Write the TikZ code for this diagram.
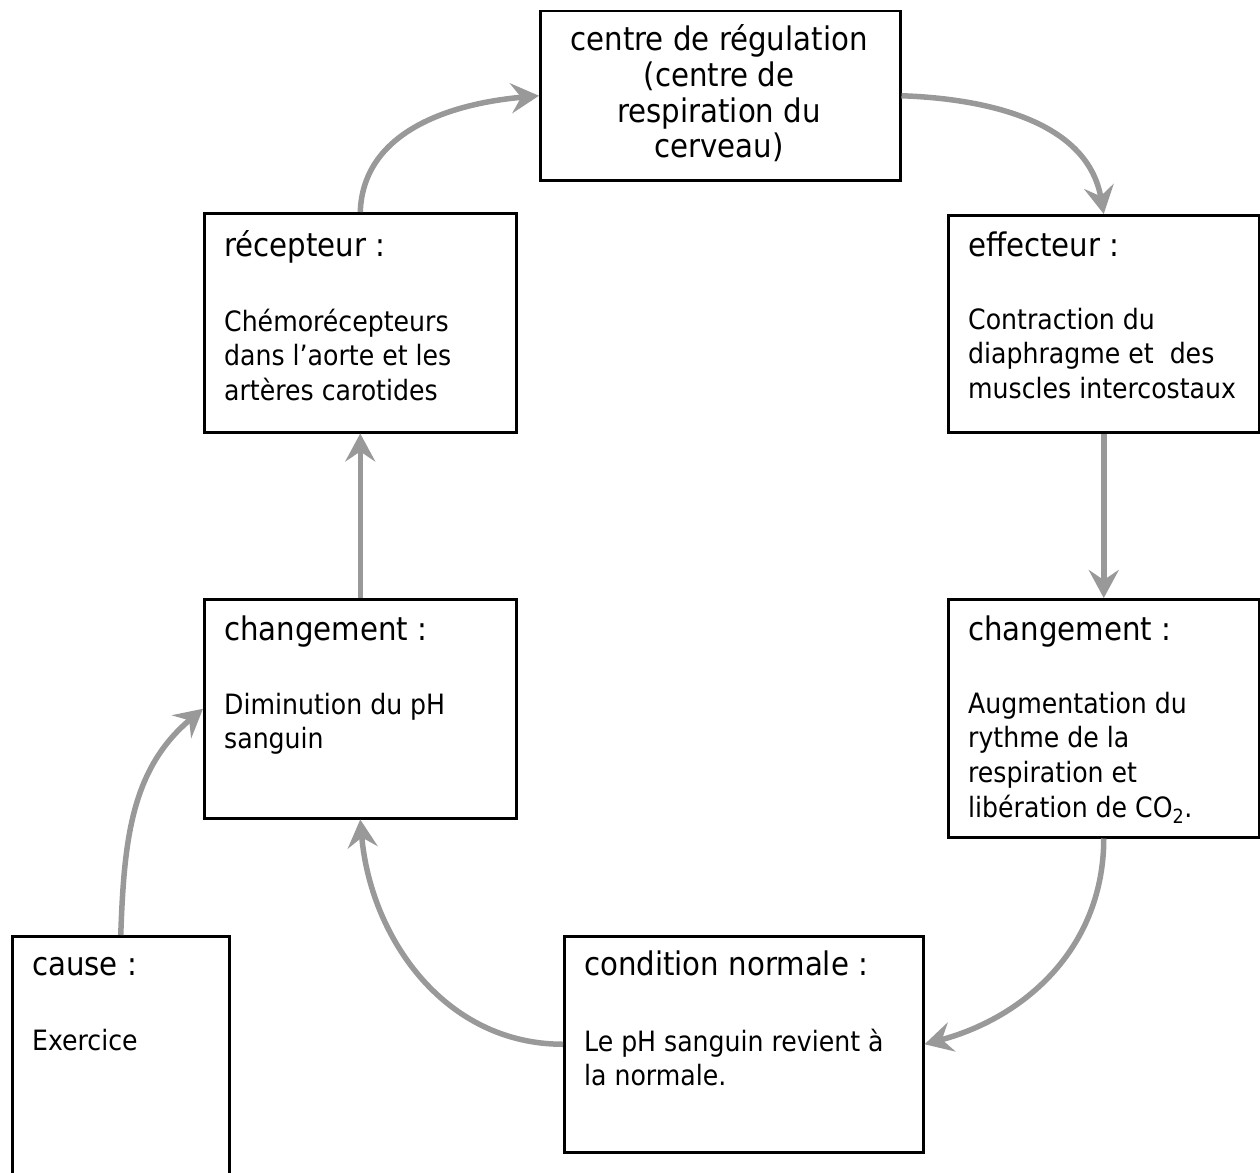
\documentclass[tikz,border=0pt]{standalone}
\usepackage{fontspec}
\setmainfont{DejaVu Sans Condensed}
\usetikzlibrary{arrows.meta}
\definecolor{arrowgray}{HTML}{999999}
\begin{document}
\begin{tikzpicture}[x=1pt,y=-1pt,
  box/.style={draw=black, line width=2.5pt, inner sep=0pt, anchor=north west},
  flow/.style={draw=arrowgray, line width=5.5pt, -{Stealth[length=28pt,width=30pt,inset=10pt]}},
  titletext/.style={anchor=base west, inner sep=0pt, font=\fontsize{32.5}{39}\selectfont},
  bodytext/.style={anchor=base west, inner sep=0pt, font=\fontsize{28}{34.8}\selectfont}]
\clip (0,0) rectangle (1260,1172);
\useasboundingbox (0,0) rectangle (1260,1172);

% boxes
\node[box, minimum width=360pt, minimum height=169pt] (top) at (539,10) {};
\node[box, minimum width=312pt, minimum height=219pt] (rec) at (203,212) {};
\node[box, minimum width=311pt, minimum height=217pt] (eff) at (947,214) {};
\node[box, minimum width=312pt, minimum height=219pt] (chL) at (203,598) {};
\node[box, minimum width=311pt, minimum height=238pt] (chR) at (947,598) {};
\node[box, minimum width=359pt, minimum height=216pt] (cond) at (563,935) {};
\node[box, minimum width=217pt, minimum height=300pt] (cause) at (11,935) {};

% texts
\node[anchor=base, inner sep=0pt, font=\fontsize{32.5}{35.5}\selectfont] (top-t) at (719,51)
  {\parbox[t]{350pt}{\centering centre de régulation\\(centre de\\respiration du\\cerveau)}};

\node[titletext] (rec-t) at (224,256) {récepteur :};
\node[bodytext] (rec-b) at (224,331)
  {\parbox[t]{290pt}{\raggedright Chémorécepteurs\\dans l’aorte et les\\artères carotides}};

\node[titletext] (eff-t) at (968,256) {effecteur :};
\node[bodytext] (eff-b) at (968,329)
  {\parbox[t]{290pt}{\raggedright Contraction du\\diaphragme et~ des\\muscles intercostaux}};

\node[titletext] (chL-t) at (224,640) {changement :};
\node[bodytext] (chL-b) at (224,714)
  {\parbox[t]{290pt}{\raggedright Diminution du pH\\sanguin}};

\node[titletext] (chR-t) at (968,640) {changement :};
\node[bodytext] (chR-b) at (968,713)
  {\parbox[t]{290pt}{\raggedright Augmentation du\\rythme de la\\respiration et\\libération de CO\textsubscript{2}.}};

\node[titletext] (cond-t) at (584,975) {condition normale :};
\node[bodytext] (cond-b) at (584,1051)
  {\parbox[t]{330pt}{\raggedright Le pH sanguin revient à\\la normale.}};

\node[titletext] (cause-t) at (32,975) {cause :};
\node[bodytext] (cause-b) at (32,1050) {Exercice};

% connectors
\draw[flow] (rec.north) to[out=88,in=185] (top.west);
\draw[flow] (top.east) to[out=-2,in=100] (eff.north);
\draw[flow] (eff.south) -- (chR.north);
\draw[flow] (chR.south) to[out=-90,in=15] (cond.east);
\draw[flow] (cond.west) to[out=180,in=-85] (chL.south);
\draw[flow] (cause.north) to[out=88,in=220] (chL.west);
\draw[flow] (chL.north) -- (rec.south);
\end{tikzpicture}
\end{document}
